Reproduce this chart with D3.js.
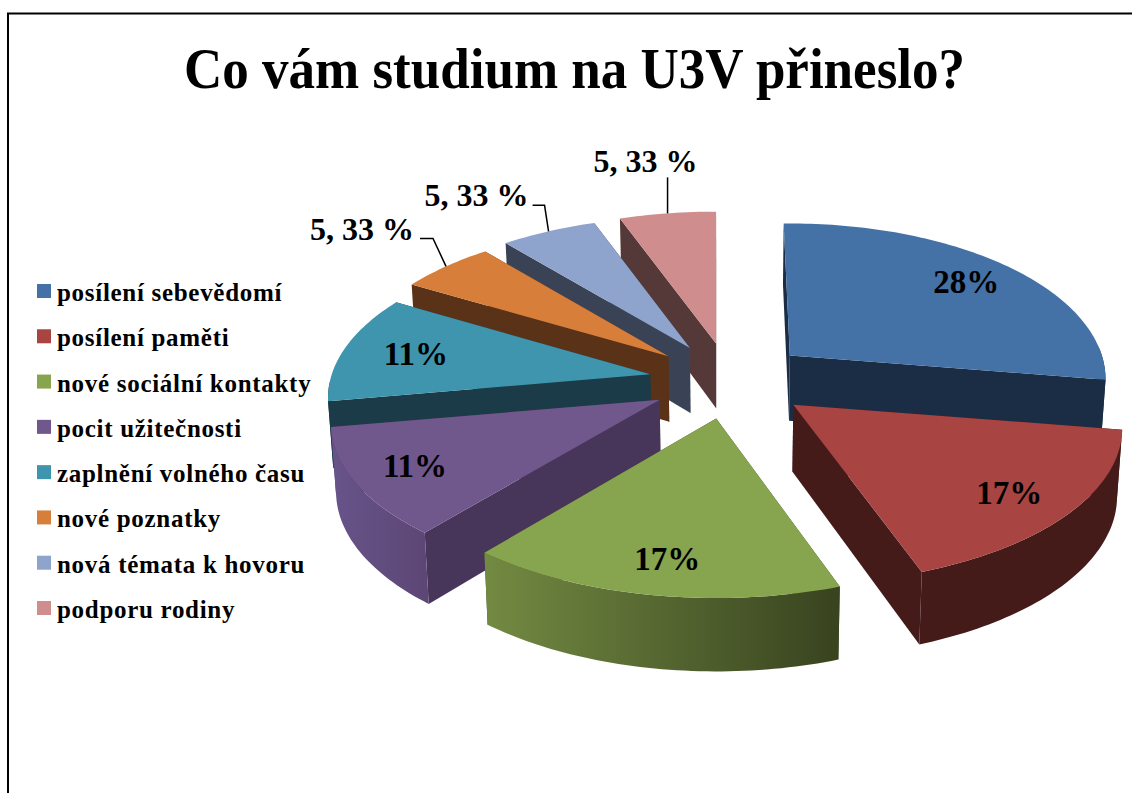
<!DOCTYPE html>
<html><head><meta charset="utf-8">
<script src="https://cdn.jsdelivr.net/npm/d3@7"></script>
<style>html,body{margin:0;padding:0;background:#fff}svg{display:block}text{font-family:"Liberation Serif",serif;font-weight:bold;fill:#000}</style>
</head><body><svg id="c" width="1132" height="793"></svg>
<script>
const titleText = "Co vám studium na U3V přineslo?";
const categories = ["posílení sebevědomí","posílení paměti","nové sociální kontakty","pocit užitečnosti","zaplnění volného času","nové poznatky","nová témata k hovoru","podporu rodiny"];
const values = [28,17,17,11,11,5.33,5.33,5.33];
const valueLabels = ["28%","17%","17%","11%","11%","5, 33 %","5, 33 %","5, 33 %"];
const topColors = ["#4471a6","#a84442","#87a44e","#70578c","#3e95ad","#d77f3a","#8fa4cd","#cf8e8d"];
const faceColors = ["#1b2c45","#451b19","#3f4c22","#47365a","#1a3b47","#5a3217","#3a4356","#553838"];
const wallLight = ["#1b2c45","#451b19","#738a42","#69548a","#1a3b47","#5a3217","#3a4356","#553838"];
const wallDark = ["#1b2c45","#451b19","#38431f","#5b4675","#1a3b47","#5a3217","#3a4356","#553838"];

// layout
const W=1132,H=793, cx=730, cy=381, R=325, Ex=81, Ey=38, T=0.468, K=0.153, rad=Math.PI/180;
const xStretch=[0.96,1,1,1,0.98,0.99,0.995,1];
const edgeTrim=[[1.5,1],[1.2,1],[1.8,-1.5],[-0.8,0],[0,0],[0,0],[0,0],[0,0]];
const labelFrac=[0.78,0.82,0.82,0.82,0.75];
const labelNudge=[[10,1],[-10,4],[3,0],[2,0],[-4,0]];
const kneeOff=[[-13,-28],[-4,-26],[0,-36]], lineEndX=[-26,-16,0], textRight=[-32,-20,30], textBase=[-26,-25,-41.5];

const svg=d3.select("#c");
const defs=svg.append("defs");
svg.append("path").attr("d",d3.line()([[8,H],[8,13.5],[W,13.5]])).attr("fill","none").attr("stroke","#000").attr("stroke-width",2);
svg.append("text").attr("x",184).attr("y",88).attr("font-size",58).attr("textLength",781).attr("lengthAdjust","spacingAndGlyphs").text(titleText);

const color=d3.scaleOrdinal(categories,topColors), face=d3.scaleOrdinal(categories,faceColors);
const pie=d3.pie().sort(null).value((d,i)=>values[i]);
const arcs=pie(categories);
const line=d3.line();
const rowY=d3.scalePoint(categories,[284,601]);

// the view's perspective skews angles a little on the near side
const warp=a=>a-2.8*rad*Math.min(1,(2*Math.PI-a)/(Math.PI/2));
function apex(m){const w=warp(m);return [cx+Ex*Math.sin(w), cy-Ey*Math.cos(w)];}
function proj(a,m,i,f=1){
  const w=warp(a),c=Math.cos(w),s=Math.sin(w),k=1/(1+K*f*c),o=apex(m);
  return [o[0]+R*f*s*k*xStretch[i], o[1]-T*R*f*c*k];
}
function down(p){
  const d=65+(p[1]-344)*0.033;
  return [p[0]+(cx-p[0])*0.013, p[1]+d];
}
function arcPts(a0,a1,m,i){
  const n=Math.max(2,Math.ceil((a1-a0)/0.02));
  return d3.range(n+1).map(j=>proj(a0+(a1-a0)*j/n,m,i));
}
const order=[7,6,5,4,3,0,1,2];
const g=svg.append("g");
order.forEach(i=>{
  const d=arcs[i],m=(d.startAngle+d.endAngle)/2;
  const a0=d.startAngle+edgeTrim[i][0]*rad,a1=d.endAngle+edgeTrim[i][1]*rad;
  const A=apex(m),P0=proj(a0,m,i),P1=proj(a1,m,i);
  const sl=g.append("g");
  [[A,P0],[A,P1]].forEach(([p,q])=>sl.append("path")
     .attr("d",line([p,q,down(q),down(p)])+"Z").attr("fill",face(categories[i])));
  const w0=Math.max(a0,Math.PI/2),w1=Math.min(a1,Math.PI*1.5);
  if(w1>w0){
    const id="w"+i;
    const gr=defs.append("linearGradient").attr("id",id).attr("x1",0).attr("x2",1).attr("y1",0).attr("y2",0);
    gr.append("stop").attr("offset",0).attr("stop-color",wallLight[i]);
    gr.append("stop").attr("offset",1).attr("stop-color",wallDark[i]);
    const top=arcPts(w0,w1,m,i), bot=top.map(down).reverse();
    sl.append("path").attr("d",line(top.concat(bot))+"Z").attr("fill",`url(#${id})`);
  }
  sl.append("path").attr("d",line([A].concat(arcPts(a0,a1,m,i)))+"Z").attr("fill",color(categories[i]));
});

arcs.slice(0,5).forEach((d,i)=>{
  const m=(d.startAngle+d.endAngle)/2,p=proj(m,m,i,labelFrac[i]);
  svg.append("text").attr("x",p[0]+labelNudge[i][0]).attr("y",p[1]+11+labelNudge[i][1]).attr("text-anchor","middle").attr("font-size",33).text(valueLabels[i]);
});
arcs.slice(5).forEach((d,j)=>{
  const m=(d.startAngle+d.endAngle)/2,p=proj(m,m,5+j);
  const k=[p[0]+kneeOff[j][0],p[1]+kneeOff[j][1]];
  svg.append("path").attr("d",line([p,k,[p[0]+lineEndX[j],k[1]]])).attr("fill","none").attr("stroke","#000").attr("stroke-width",1.5);
  svg.append("text").attr("x",p[0]+textRight[j]).attr("y",p[1]+textBase[j]).attr("text-anchor","end").attr("font-size",32).text(valueLabels[5+j]);
});
const leg=svg.append("g").selectAll("g").data(categories).join("g").attr("transform",d=>`translate(37,${rowY(d)})`);
leg.append("rect").attr("width",14).attr("height",14).attr("fill",d=>color(d));
leg.append("text").attr("x",20).attr("y",17).attr("font-size",25).style("letter-spacing","0.7px").text(d=>d);
</script></body></html>
